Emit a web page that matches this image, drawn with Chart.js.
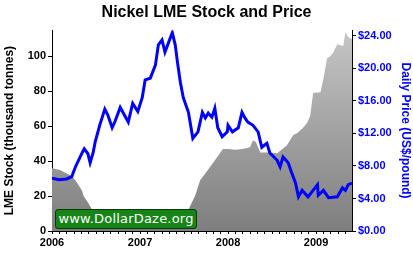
<!DOCTYPE html>
<html>
<head>
<meta charset="utf-8">
<script src="https://cdn.jsdelivr.net/npm/chart.js@4.4.0/dist/chart.umd.min.js"></script>
<style>
  body { margin: 0; background: #fff; }
  #wrap { position: relative; width: 413px; height: 255px; }
  #badge {
    position: absolute; left: 55px; top: 209px; width: 140px; height: 18px;
    background: #178417; border: 1px solid #0a3a0a; border-radius: 3px;
    color: #fff; font: 13px "DejaVu Sans", sans-serif; line-height: 18px;
    text-align: center; letter-spacing: 0.2px;
  }
</style>
</head>
<body>
<div id="wrap">
  <canvas id="nickelChart" width="413" height="255"></canvas>
  <div id="badge">www.DollarDaze.org</div>
</div>
<script>
// months counted from Jan 2006
const stockMonths = [0, 1.1, 2, 2.5, 3, 3.5, 4.1, 4.3, 4.8, 5.5, 5.9, 6.5, 8, 10, 12, 14, 16, 17, 18, 18.8, 19.5, 20.2, 21.6, 22.9, 23.3, 24, 25, 26, 27, 27.4, 27.8, 28.4, 29.5, 30.7, 32, 32.9, 33.4, 34.2, 34.8, 35.2, 35.6, 36.6, 37, 37.5, 37.9, 38.3, 38.9, 39.7, 40, 40.4, 40.9];
const stockValues = [36, 35, 33, 32, 30, 27, 23, 20, 17, 12, 7, 4, 3, 2.5, 2.5, 2, 2, 2.5, 5, 14, 20, 29, 37, 44.5, 47, 47, 46.5, 47, 48, 52, 51, 45, 45, 44.5, 49, 55, 56, 59, 62, 66, 79, 79.5, 87, 99, 100, 102, 107, 106, 114, 111, 110];

const priceMonths = [0, 1, 2, 2.7, 3.2, 4.1, 4.4, 4.9, 5.2, 5.6, 5.9, 6.5, 7.2, 7.6, 8.2, 8.6, 9.3, 10.4, 11, 11.7, 12.3, 12.7, 13.4, 14.1, 14.5, 15, 15.4, 16.4, 16.8, 17.1, 17.5, 17.9, 18.6, 19.2, 19.9, 20.5, 20.9, 21.3, 21.8, 22.2, 22.6, 23.2, 23.9, 24, 24.6, 25.4, 25.9, 26.3, 26.7, 27.4, 28.1, 28.6, 29.3, 29.7, 30.7, 31.1, 31.5, 32.2, 32.7, 33.2, 33.6, 34.1, 34.9, 36.2, 36.3, 37, 37.7, 38.9, 39.6, 40, 40.4, 40.9];
const priceValues = [6.5, 6.3, 6.4, 6.7, 7.9, 9.6, 10.1, 9.5, 8.4, 9.6, 11, 13, 15, 14.3, 12.7, 13.5, 15.2, 13.4, 15.7, 14.7, 16.4, 18.6, 18.8, 20.4, 22.9, 23.5, 22, 24.4, 22.9, 20.8, 18.3, 16.4, 14.6, 11.4, 12.2, 14.6, 13.9, 14.5, 14, 15.1, 12.7, 11.6, 12.2, 13, 12.2, 12.7, 14.6, 13.9, 13.4, 13, 12.2, 10.3, 10.8, 9.6, 8.7, 7.9, 9.1, 8.4, 7.1, 5.9, 4.2, 5.0, 4.2, 5.7, 4.4, 5.0, 4.1, 4.2, 5.3, 5.0, 5.7, 5.9];

const yearLabels = ['2006', '2007', '2008', '2009'];
const stockTicks = [0, 20, 40, 60, 80, 100];
const priceTicks = [0, 4, 8, 12, 16, 20, 24];

const toPoints = (xs, ys) => xs.map((x, i) => ({ x: x, y: ys[i] }));

function grayFill(ctx) {
    const area = ctx.chart.chartArea;
    if (!area) return '#a0a0a0';
    const g = ctx.chart.ctx.createLinearGradient(0, area.top, 0, area.bottom);
    g.addColorStop(0, '#c6c6c6');
    g.addColorStop(1, '#7e7e7e');
    return g;
}

const boldFont = { family: 'Liberation Sans, Arial, sans-serif', size: 11, weight: 'bold' };

new Chart(document.getElementById('nickelChart'), {
    type: 'line',
    data: {
        datasets: [{
            label: 'Price',
            data: toPoints(priceMonths, priceValues),
            yAxisID: 'y1',
            borderColor: '#0000ff',
            borderWidth: 3,
            pointRadius: 0,
            fill: false,
            tension: 0,
            order: 1
        }, {
            label: 'Stock',
            data: toPoints(stockMonths, stockValues),
            yAxisID: 'y',
            borderWidth: 0,
            borderColor: 'rgba(0,0,0,0)',
            backgroundColor: grayFill,
            pointRadius: 0,
            fill: 'origin',
            tension: 0,
            order: 2
        }]
    },
    options: {
        responsive: false,
        animation: false,
        layout: { padding: 0 },
        plugins: {
            legend: { display: false },
            tooltip: { enabled: false },
            title: {
                display: true,
                text: 'Nickel LME Stock and Price',
                color: '#000',
                font: { family: 'Liberation Sans, Arial, sans-serif', size: 16, weight: 'bold' },
                padding: { top: 3, bottom: 8 }
            }
        },
        scales: {
            x: {
                type: 'linear',
                min: 0,
                max: 40.9,
                afterFit: s => { s.height = 24; },
                border: { color: '#000', width: 1 },
                grid: { drawOnChartArea: false, color: '#000', tickLength: 3 },
                afterBuildTicks: s => {
                    const t = [];
                    for (let m = 0; m <= 40; m++) t.push({ value: m });
                    s.ticks = t;
                },
                ticks: {
                    autoSkip: false,
                    maxRotation: 0,
                    color: '#000',
                    font: boldFont,
                    padding: 2,
                    callback: v => (v % 12 === 0 ? yearLabels[v / 12] : '')
                }
            },
            y: {
                position: 'left',
                min: 0,
                max: 115,
                afterFit: s => { s.width = 52; },
                afterBuildTicks: s => { s.ticks = stockTicks.map(v => ({ value: v })); },
                border: { color: '#000', width: 1 },
                grid: { drawOnChartArea: false, color: '#000', tickLength: 4 },
                ticks: { color: '#000', font: boldFont, padding: 2 },
                title: {
                    display: true,
                    text: 'LME Stock (thousand tonnes)',
                    color: '#000',
                    font: { family: 'Liberation Sans, Arial, sans-serif', size: 12, weight: 'bold' },
                    padding: { top: 2, bottom: 0 }
                }
            },
            y1: {
                position: 'right',
                min: 0,
                max: 24.7,
                afterFit: s => { s.width = 61; },
                afterBuildTicks: s => { s.ticks = priceTicks.map(v => ({ value: v })); },
                border: { color: '#000', width: 1 },
                grid: { drawOnChartArea: false, color: '#000', tickLength: 4 },
                ticks: {
                    color: '#0000ff',
                    font: boldFont,
                    padding: 2,
                    callback: v => '$' + v.toFixed(2)
                },
                title: {
                    display: true,
                    text: 'Daily Price (US$/pound)',
                    color: '#0000ff',
                    font: { family: 'Liberation Sans, Arial, sans-serif', size: 12, weight: 'bold' },
                    padding: { top: 0, bottom: 2 }
                }
            }
        }
    }
});
</script>
</body>
</html>
